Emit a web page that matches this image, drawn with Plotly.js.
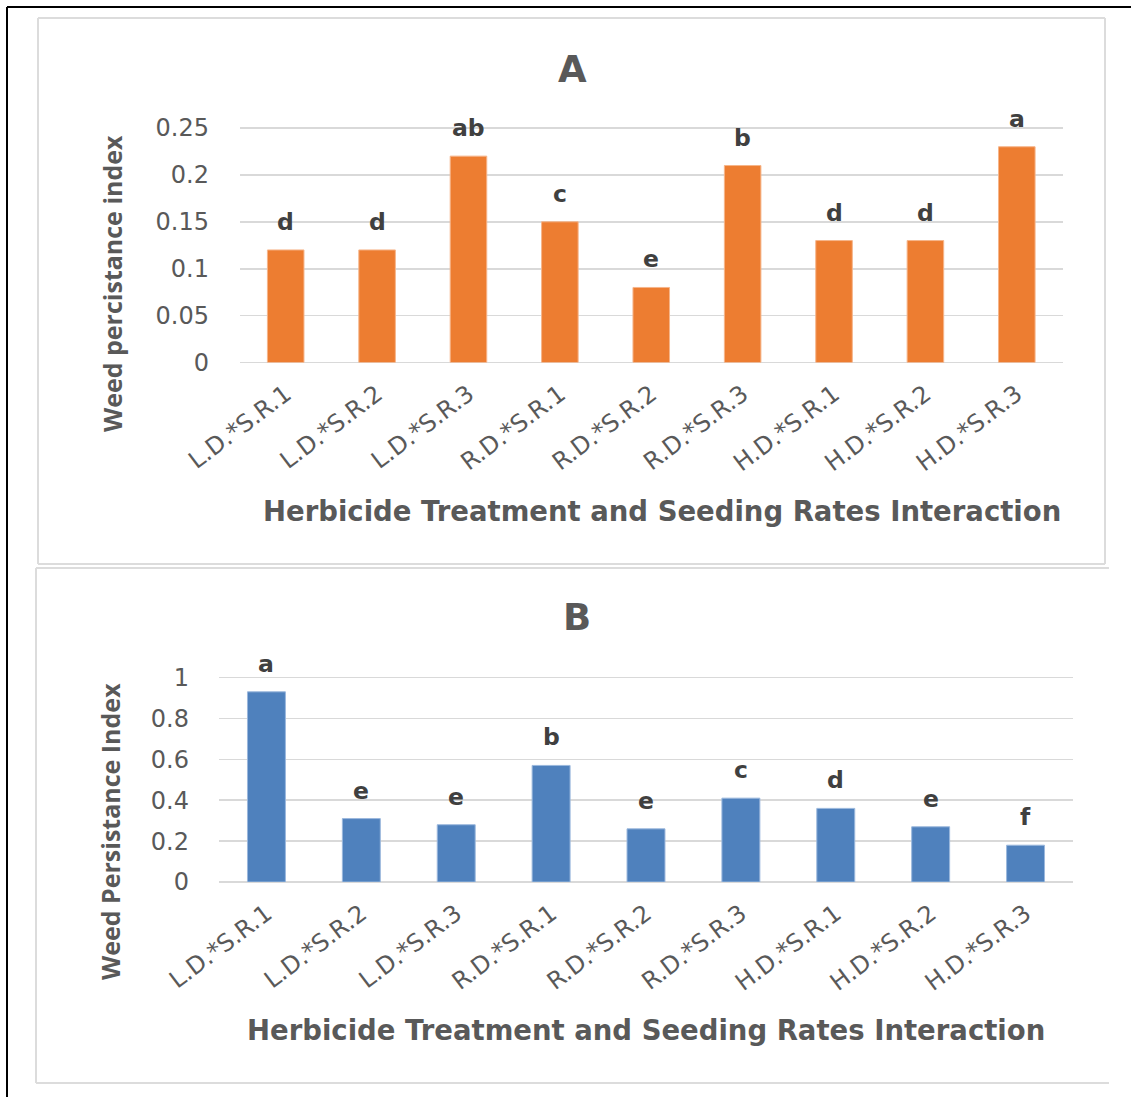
<!DOCTYPE html>
<html>
<head>
<meta charset="utf-8">
<script src="https://cdn.plot.ly/plotly-3.0.1.min.js"></script>
<style>
  html, body { margin: 0; padding: 0; background: #ffffff; }
  #chart { width: 1131px; height: 1097px; }
</style>
</head>
<body>
<div id="chart"></div>
<script>
// Treatment combinations (herbicide dose * seeding rate)
const categories = ['L.D.*S.R.1', 'L.D.*S.R.2', 'L.D.*S.R.3',
                    'R.D.*S.R.1', 'R.D.*S.R.2', 'R.D.*S.R.3',
                    'H.D.*S.R.1', 'H.D.*S.R.2', 'H.D.*S.R.3'];

// Panel A: weed persistence index and significance letters
const persistA = [0.12, 0.12, 0.22, 0.15, 0.08, 0.21, 0.13, 0.13, 0.23];
const lettersA = ['d', 'd', 'ab', 'c', 'e', 'b', 'd', 'd', 'a'];

// Panel B: weed persistence index and significance letters
const persistB = [0.93, 0.31, 0.28, 0.57, 0.26, 0.41, 0.36, 0.27, 0.18];
const lettersB = ['a', 'e', 'e', 'b', 'e', 'c', 'd', 'e', 'f'];

const titleA = 'A';
const titleB = 'B';
const xTitle = 'Herbicide Treatment and Seeding Rates Interaction';
const yTitleA = 'Weed percistance index';
const yTitleB = 'Weed Persistance Index';

const W = 1131, H = 1097;
const WIDE = '"DejaVu Sans", "Open Sans", sans-serif';
const NARROW = '"Open Sans", "Noto Sans", sans-serif';
const GREY = '#595959';
const GRID = '#d9d9d9';

// pixel -> paper helpers
const fx = x => x / W;
const fy = y => 1 - y / H;

const traces = [
  {
    type: 'bar', x: categories, y: persistA, xaxis: 'x', yaxis: 'y',
    marker: { color: '#ED7D31', line: { color: '#F6B58A', width: 1 } },
    hoverinfo: 'x+y'
  },
  {
    type: 'bar', x: categories, y: persistB, xaxis: 'x2', yaxis: 'y2',
    marker: { color: '#4F81BD', line: { color: '#9BB8DD', width: 1 } },
    hoverinfo: 'x+y'
  }
];

function catAxis(domain, anchor) {
  return {
    domain: domain, anchor: anchor, type: 'category',
    showgrid: false, zeroline: false, showline: false, ticks: '',
    tickangle: -37, ticklabelstandoff: 12,
    tickfont: { family: WIDE, size: 24, color: GREY },
    fixedrange: true
  };
}

function valAxis(domain, anchor, range, dtick, standoff) {
  return {
    domain: domain, anchor: anchor, range: range, dtick: dtick, tick0: 0,
    showgrid: true, gridcolor: GRID, gridwidth: 1.6,
    zeroline: true, zerolinecolor: GRID, zerolinewidth: 1.6,
    showline: false, ticks: '', ticklabelstandoff: standoff,
    tickfont: { family: WIDE, size: 24, color: GREY },
    fixedrange: true
  };
}

// Panel A plot area: x 240..1062, y(0)=362.5, 938 px per unit
const aTop0 = 362.5, aScale = 938, aMax = 0.26;
// Panel B plot area: x 219..1073, y(0)=882, 204.5 px per unit
const bTop0 = 882, bScale = 204.5, bMax = 1.05;

const annotations = [];

function letterNotes(values, letters, xref, yref) {
  values.forEach((v, i) => {
    annotations.push({
      x: categories[i], y: v, xref: xref, yref: yref,
      text: letters[i], showarrow: false, yanchor: 'middle', yshift: 28,
      font: { family: WIDE, size: 23.5, color: '#404040', weight: 700 }
    });
  });
}
letterNotes(persistA, lettersA, 'x', 'y');
letterNotes(persistB, lettersB, 'x2', 'y2');

function textNote(text, x, y, size) {
  annotations.push({
    text: text, x: fx(x), y: fy(y), xref: 'paper', yref: 'paper',
    xanchor: 'center', yanchor: 'middle', showarrow: false,
    font: { family: WIDE, size: size, color: GREY, weight: 700 }
  });
}
textNote(titleA, 572, 69, 37);
textNote(titleB, 577, 617, 37);
textNote(xTitle, 662, 511, 27.5);
textNote(xTitle, 646, 1030, 27.5);

function yTitleNote(text, x, y) {
  annotations.push({
    text: text, x: fx(x), y: fy(y), xref: 'paper', yref: 'paper',
    xanchor: 'center', yanchor: 'middle', showarrow: false, textangle: -90,
    font: { family: NARROW, size: 25, color: GREY, weight: 700 }
  });
}
yTitleNote(yTitleA, 112, 284);
yTitleNote(yTitleB, 110, 832);

function line(x0, y0, x1, y1, color, width) {
  return {
    type: 'line', xref: 'paper', yref: 'paper',
    x0: fx(x0), y0: fy(y0), x1: fx(x1), y1: fy(y1),
    line: { color: color, width: width }, layer: 'below'
  };
}

const shapes = [
  // outer dark border (top and left)
  line(7, 7, W, 7, '#000000', 2),
  line(7, 7, 7, H, '#000000', 2),
  // panel A frame
  line(38, 18, 1105, 18, '#dcdcdc', 2),
  line(38, 564, 1105, 564, '#dcdcdc', 2),
  line(38, 18, 38, 564, '#dcdcdc', 2),
  line(1105, 18, 1105, 564, '#dcdcdc', 2),
  // panel B frame (open on the right)
  line(36, 568, 1109, 568, '#dcdcdc', 2),
  line(36, 1083, 1109, 1083, '#dcdcdc', 2),
  line(36, 568, 36, 1083, '#dcdcdc', 2)
];

const layout = {
  width: W, height: H,
  margin: { l: 0, r: 0, t: 0, b: 0, pad: 0 },
  paper_bgcolor: '#ffffff', plot_bgcolor: 'rgba(0,0,0,0)',
  showlegend: false, bargap: 0.6,
  font: { family: WIDE, color: GREY },
  xaxis: catAxis([fx(240), fx(1062.5)], 'y'),
  yaxis: valAxis([fy(aTop0), fy(aTop0 - aMax * aScale)], 'x', [0, aMax], 0.05, 30),
  xaxis2: catAxis([fx(219), fx(1073)], 'y2'),
  yaxis2: valAxis([fy(bTop0), fy(bTop0 - bMax * bScale)], 'x2', [0, bMax], 0.2, 29),
  annotations: annotations,
  shapes: shapes
};

Plotly.newPlot('chart', traces, layout, { displayModeBar: false, staticPlot: true });
</script>
</body>
</html>
